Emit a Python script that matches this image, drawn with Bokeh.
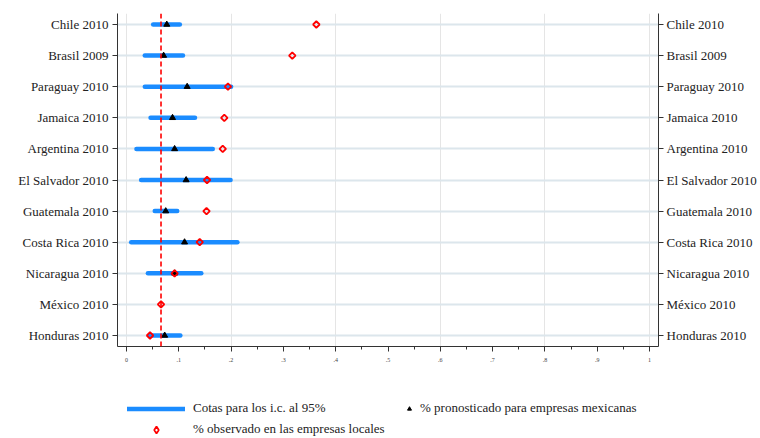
import numpy as np
from bokeh.plotting import figure
from bokeh.layouts import column
from bokeh.models import (ColumnDataSource, Range1d, FixedTicker, LinearAxis,
                          Span, Legend, LegendItem, Grid)
from bokeh.embed import file_html
from bokeh.resources import INLINE

# ---- data (bottom to top) ----
countries = ["Honduras 2010", "México 2010", "Nicaragua 2010", "Costa Rica 2010",
             "Guatemala 2010", "El Salvador 2010", "Argentina 2010", "Jamaica 2010",
             "Paraguay 2010", "Brasil 2009", "Chile 2010"]
ci_low = [0.045, np.nan, 0.041, 0.009, 0.054, 0.028, 0.019, 0.046, 0.035, 0.035, 0.051]
ci_high = [0.103, np.nan, 0.143, 0.212, 0.097, 0.199, 0.165, 0.131, 0.200, 0.108, 0.102]
predicted = [0.073, np.nan, 0.092, 0.111, 0.075, 0.114, 0.092, 0.088, 0.116, 0.071, 0.077]
observed = [0.045, 0.066, 0.092, 0.140, 0.153, 0.154, 0.184, 0.187, 0.194, 0.317, 0.363]
reference_country = "México 2010"

x_ticks = [0.0, 0.1, 0.2, 0.3, 0.4, 0.5, 0.6, 0.7, 0.8, 0.9, 1.0]
x_tick_labels = ["0", ".1", ".2", ".3", ".4", ".5", ".6", ".7", ".8", ".9", "1"]
x_minor = [0.05, 0.15, 0.25, 0.35, 0.45, 0.55, 0.65, 0.75, 0.85, 0.95]

legend_ci = "Cotas para los i.c. al 95%"
legend_pred = "% pronosticado para empresas mexicanas"
legend_obs = "% observado en las empresas locales"

FONT = "Liberation Serif"
BLUE = "#1b8cff"
GRID = "#dce6ec"
AX = "#333333"
TXT = "#222222"

CI_STYLE = dict(line_color=BLUE, line_width=4.5, line_cap="round")
PRED_STYLE = dict(marker="triangle", size=6, fill_color="black", line_color="black")
OBS_STYLE = dict(marker="square", angle=np.pi / 4, size=4.6, fill_color=None,
                 line_color="red", line_width=1.8)
OBS_KEY_STYLE = dict(marker="diamond", size=7, fill_color=None,
                     line_color="red", line_width=1.8)

ypos = list(range(len(countries)))
src = ColumnDataSource(dict(y=ypos, lo=np.array(ci_low, dtype=float),
                            hi=np.array(ci_high, dtype=float),
                            pred=np.array(predicted, dtype=float),
                            obs=np.array(observed, dtype=float)))

BL, BR = 117, 102
p = figure(width=760, height=392, output_backend="svg", toolbar_location=None,
           x_range=Range1d(-0.0172, 1.0172), y_range=Range1d(-0.354, 10.354),
           min_border_left=BL, min_border_right=BR, min_border_top=13,
           min_border_bottom=46, x_axis_location=None, y_axis_location=None)
p.outline_line_color = None
p.background_fill_color = "white"
p.border_fill_color = "white"

label_map = {i: c for i, c in enumerate(countries)}

xaxis = LinearAxis(ticker=FixedTicker(ticks=x_ticks, minor_ticks=x_minor),
                   major_label_overrides={t: l for t, l in zip(x_ticks, x_tick_labels)})
yaxis_l = LinearAxis(ticker=FixedTicker(ticks=ypos, minor_ticks=[]),
                     major_label_overrides=label_map)
yaxis_r = LinearAxis(ticker=FixedTicker(ticks=ypos, minor_ticks=[]),
                     major_label_overrides=label_map)
for ax in (xaxis, yaxis_l, yaxis_r):
    ax.axis_line_color = AX
    ax.major_tick_line_color = AX
    ax.minor_tick_line_color = AX
    ax.major_tick_in = 0
    ax.minor_tick_in = 0
    ax.major_tick_out = 5
    ax.major_label_text_font = FONT
    ax.major_label_text_color = TXT
xaxis.minor_tick_out = 3
xaxis.major_label_text_font_size = "6px"
xaxis.major_label_standoff = 6
xaxis.major_label_text_color = "#444444"
for ax in (yaxis_l, yaxis_r):
    ax.major_label_text_font_size = "13px"
    ax.minor_tick_line_color = None
yaxis_l.major_label_standoff = 4
yaxis_r.major_label_standoff = 3
p.add_layout(xaxis, "below")
p.add_layout(yaxis_l, "left")
p.add_layout(yaxis_r, "right")

p.add_layout(Grid(dimension=1, ticker=yaxis_l.ticker, grid_line_color=GRID,
                  grid_line_width=2))

ref_val = observed[countries.index(reference_country)]
p.add_layout(Span(location=ref_val, dimension="height", line_color="red",
                  line_width=1.6, line_dash="5 3"))

p.segment(x0="lo", x1="hi", y0="y", y1="y", source=src, **CI_STYLE)
p.scatter(x="pred", y="y", source=src, **PRED_STYLE)
p.scatter(x="obs", y="y", source=src, **OBS_STYLE)

# ---- legend strip below (frame aligned with main plot) ----
lf = figure(width=760, height=46, output_backend="svg", toolbar_location=None,
            x_range=Range1d(0, 1), y_range=Range1d(0, 1),
            min_border_left=BL, min_border_right=BR, min_border_top=0,
            min_border_bottom=0, x_axis_location=None, y_axis_location=None)
lf.outline_line_color = None
lf.xgrid.visible = False
lf.ygrid.visible = False
lf.border_fill_color = "white"
dummy = ColumnDataSource(dict(x=[np.nan], y=[np.nan]))
l_ci = lf.segment(x0="x", x1="x", y0="y", y1="y", source=dummy, **CI_STYLE)
l_pred = lf.scatter(x="x", y="y", source=dummy, **PRED_STYLE)
l_obs = lf.scatter(x="x", y="y", source=dummy, **OBS_KEY_STYLE)

common = dict(orientation="vertical", glyph_height=17, label_height=17,
              padding=0, margin=0, border_line_color=None, background_fill_alpha=0,
              label_text_font=FONT, label_text_font_size="13px",
              label_text_color=TXT)
leg1 = Legend(items=[LegendItem(label=legend_ci, renderers=[l_ci]),
                     LegendItem(label=legend_obs, renderers=[l_obs])],
              location=(10, 0.5), glyph_width=58, spacing=4, label_standoff=8,
              **common)
leg2 = Legend(items=[LegendItem(label=legend_pred, renderers=[l_pred])],
              location=(287, 21.5), glyph_width=10, label_standoff=6, **common)
lf.add_layout(leg1)
lf.add_layout(leg2)

layout = column(p, lf, spacing=0)
open("out.html", "w").write(file_html(layout, INLINE))
